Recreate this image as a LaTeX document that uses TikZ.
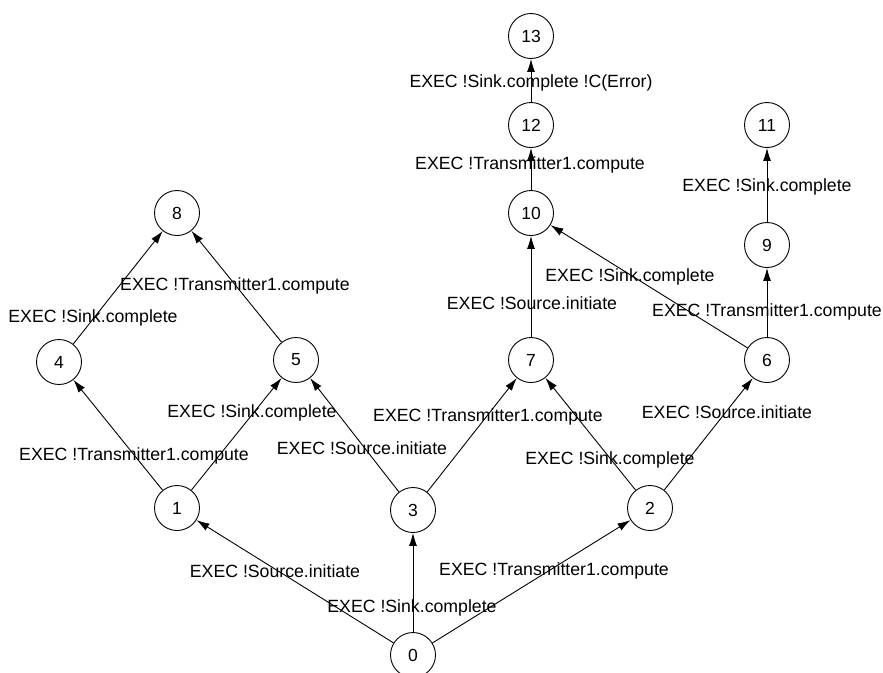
\documentclass[tikz,border=0pt]{standalone}
\usepackage{fontspec}
\setmainfont{Liberation Sans}
\usetikzlibrary{arrows.meta}
\begin{document}
\begin{tikzpicture}[x=1pt,y=-1pt,
  state/.style={circle,draw,line width=0.9pt,minimum size=45pt,inner sep=0pt,
    font=\fontsize{17.5}{20}\selectfont},
  trans/.style={line width=0.9pt,-{Latex[length=13pt,width=8pt]}},
  lbl/.style={inner sep=0pt,font=\fontsize{17.7}{20}\selectfont}]
\useasboundingbox (0,0) rectangle (883,672);

% states
\node[state] (s0)  at (413,655) {0};
\node[state] (s1)  at (177,508) {1};
\node[state] (s3)  at (413,510) {3};
\node[state] (s2)  at (650,508) {2};
\node[state] (s4)  at (59,362)  {4};
\node[state] (s5)  at (296,360) {5};
\node[state] (s7)  at (531,360) {7};
\node[state] (s6)  at (767,360) {6};
\node[state] (s8)  at (177,213) {8};
\node[state] (s10) at (531,213) {10};
\node[state] (s9)  at (767,245) {9};
\node[state] (s12) at (531,125) {12};
\node[state] (s11) at (767,125) {11};
\node[state] (s13) at (531,36)  {13};

% transitions
\draw[trans] (s0) -- (s1);
\draw[trans] (s0) -- (s3);
\draw[trans] (s0) -- (s2);
\draw[trans] (s1) -- (s4);
\draw[trans] (s1) -- (s5);
\draw[trans] (s3) -- (s5);
\draw[trans] (s3) -- (s7);
\draw[trans] (s2) -- (s7);
\draw[trans] (s2) -- (s6);
\draw[trans] (s4) -- (s8);
\draw[trans] (s5) -- (s8);
\draw[trans] (s7) -- (s10);
\draw[trans] (s6) -- (s10);
\draw[trans] (s6) -- (s9);
\draw[trans] (s9) -- (s11);
\draw[trans] (s10) -- (s12);
\draw[trans] (s12) -- (s13);

% transition labels
\node[lbl] (l01)  at (275,571) {EXEC !Source.initiate};
\node[lbl] (l03)  at (412,608) {EXEC !Sink.complete};
\node[lbl] (l02)  at (554,571) {EXEC !Transmitter1.compute};
\node[lbl] (l14)  at (134,456) {EXEC !Transmitter1.compute};
\node[lbl] (l15)  at (252,413) {EXEC !Sink.complete};
\node[lbl] (l35)  at (362,448) {EXEC !Source.initiate};
\node[lbl] (l37)  at (488,417) {EXEC !Transmitter1.compute};
\node[lbl] (l27)  at (610,460) {EXEC !Sink.complete};
\node[lbl] (l26)  at (727,412) {EXEC !Source.initiate};
\node[lbl] (l48)  at (93,318)  {EXEC !Sink.complete};
\node[lbl] (l58)  at (235,286) {EXEC !Transmitter1.compute};
\node[lbl] (l710) at (532,303) {EXEC !Source.initiate};
\node[lbl] (l610) at (630,277) {EXEC !Sink.complete};
\node[lbl] (l69)  at (767,312) {EXEC !Transmitter1.compute};
\node[lbl] (l911) at (767,187) {EXEC !Sink.complete};
\node[lbl] (l1012) at (530,165) {EXEC !Transmitter1.compute};
\node[lbl] (l1213) at (531,83) {EXEC !Sink.complete !C(Error)};
\end{tikzpicture}
\end{document}
